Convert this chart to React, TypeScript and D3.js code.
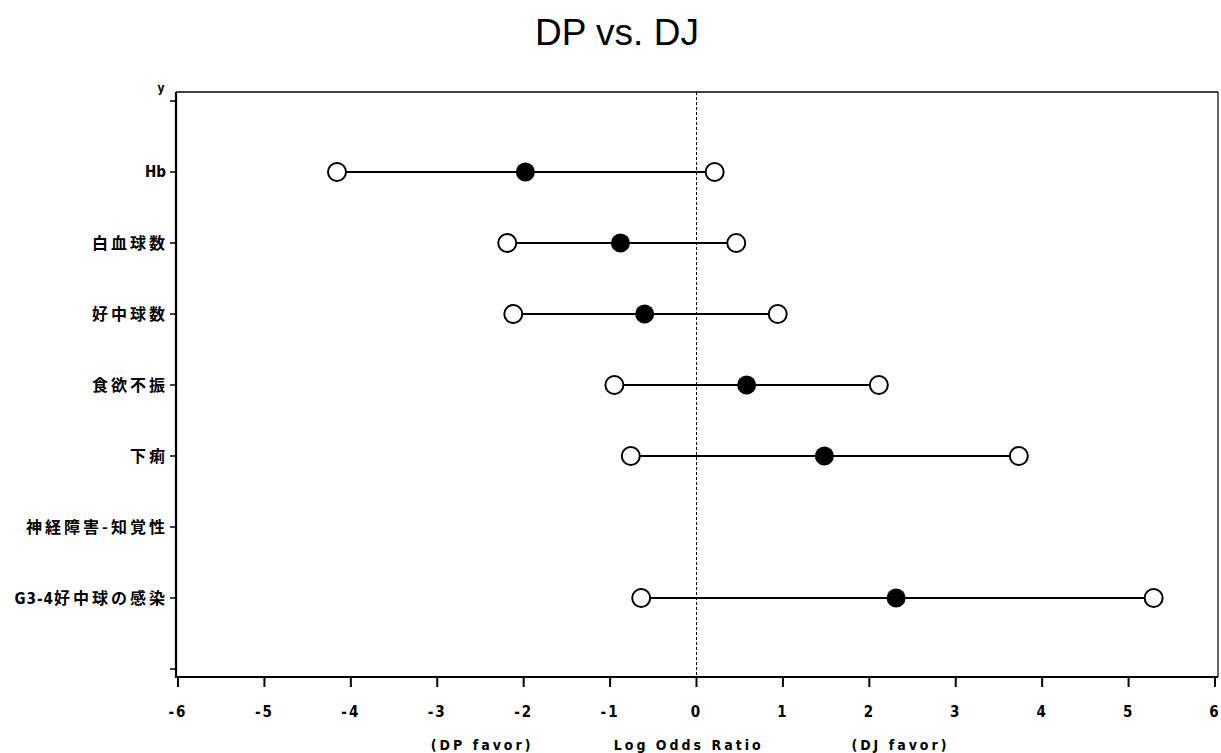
import React from "react";
import * as d3 from "d3";

const categories = ["", "Hb", "白血球数", "好中球数", "食欲不振", "下痢", "神経障害-知覚性", "G3-4好中球の感染", " "];
const lowerCI = [null, -4.16, -2.19, -2.12, -0.95, -0.76, null, -0.64, null];
const estimate = [null, -1.98, -0.88, -0.6, 0.58, 1.48, null, 2.31, null];
const upperCI = [null, 0.21, 0.46, 0.94, 2.11, 3.73, null, 5.29, null];
const xTicks = [-6, -5, -4, -3, -2, -1, 0, 1, 2, 3, 4, 5, 6];
const title = "DP vs. DJ";
const bottomLabels = [
  { x: -2.48, text: "(DP favor)" },
  { x: -0.09, text: "Log Odds Ratio" },
  { x: 2.36, text: "(DJ favor)" },
];

const W = 1221;
const H = 753;
const left = 176;
const right = 1218;
const top = 92;
const bottom = 677;

const labelFont = "'DejaVu Sans Condensed', 'Liberation Sans Narrow', 'Noto Sans CJK JP', sans-serif";
const cjkFont = "'Noto Sans CJK JP', 'DejaVu Sans', sans-serif";

function splitLabel(c: string): [string, string] {
  const m = c.match(/^([A-Za-z0-9\-]+)(.*)$/);
  if (m && m[2] !== "") return [m[1], m[2]];
  return ["", c];
}

export default function App() {
  const x = d3.scaleLinear().domain([-6, 6]).range([178, 1215]);
  const y = d3.scalePoint<string>().domain(categories).range([101, 669]);

  return (
    <svg width={W} height={H} style={{ position: "absolute", left: 0, top: 0, background: "#fff" }}>
      <rect x={0} y={0} width={W} height={H} fill="#fff" />
      <text x={617} y={45} textAnchor="middle" fontFamily="'Liberation Sans', Arial, sans-serif" fontSize={37} fill="#000" style={{ whiteSpace: "pre" }}>
        {title}
      </text>
      {/* frame */}
      <line x1={left} x2={right} y1={top} y2={top} stroke="#000" strokeWidth={1.5} />
      <line x1={right} x2={right} y1={top} y2={bottom} stroke="#000" strokeWidth={1.2} />
      <line x1={left} x2={left} y1={top} y2={bottom + 1} stroke="#000" strokeWidth={2.2} />
      <line x1={left} x2={right} y1={bottom} y2={bottom} stroke="#000" strokeWidth={2.2} />
      <text x={161} y={92} textAnchor="middle" fontFamily={labelFont} fontWeight="bold" fontSize={12}>y</text>
      {/* y ticks and labels */}
      {categories.map((c, i) => {
        const cy = y(c)!;
        if (c.trim() === "") {
          return <line key={i} x1={left - 6} x2={left} y1={cy} y2={cy} stroke="#000" strokeWidth={1.5} />;
        }
        const [ascii, rest] = splitLabel(c);
        return (
          <g key={i}>
            <line x1={left - 6} x2={left} y1={cy} y2={cy} stroke="#000" strokeWidth={1.5} />
            {c === "Hb" ? (
              <text x={left - 10} y={cy} dy="0.36em" textAnchor="end" fontFamily={labelFont} fontWeight="bold" fontSize={15} fill="#000">
                {c}
              </text>
            ) : (
              <text x={left - 8} y={cy} dy="0.36em" textAnchor="end" fontFamily={cjkFont} fontWeight="bold" fontSize={16} letterSpacing={3} fill="#000">
                {ascii !== "" && (
                  <tspan fontFamily={labelFont} fontSize={15} letterSpacing={1}>
                    {ascii}
                  </tspan>
                )}
                <tspan>{rest}</tspan>
              </text>
            )}
          </g>
        );
      })}
      {/* x ticks */}
      {xTicks.map((t) => (
        <g key={t}>
          <line x1={x(t)} x2={x(t)} y1={bottom} y2={bottom + 10} stroke="#000" strokeWidth={2} />
          <text x={x(t)} y={717} textAnchor="middle" fontFamily={labelFont} fontWeight="bold" fontSize={15} letterSpacing={2} fill="#000">
            {t < 0 ? "-" + Math.abs(t) : String(t)}
          </text>
        </g>
      ))}
      {bottomLabels.map((b) => (
        <text key={b.text} x={x(b.x)} y={750} textAnchor="middle" fontFamily={labelFont} fontWeight="bold" fontSize={14} letterSpacing={3} fill="#000">
          {b.text}
        </text>
      ))}
      {/* reference line */}
      <line x1={x(0)} x2={x(0)} y1={top} y2={bottom} stroke="#000" strokeWidth={1} strokeDasharray="3,2" />
      {/* intervals */}
      {categories.map((c, i) => {
        const lo = lowerCI[i];
        const est = estimate[i];
        const hi = upperCI[i];
        if (lo == null || est == null || hi == null) return null;
        const cy = y(c)!;
        return (
          <g key={"ci" + i}>
            <line x1={x(lo)} x2={x(hi)} y1={cy} y2={cy} stroke="#000" strokeWidth={2} />
            <circle cx={x(lo)} cy={cy} r={9} fill="#fff" stroke="#000" strokeWidth={2} />
            <circle cx={x(hi)} cy={cy} r={9} fill="#fff" stroke="#000" strokeWidth={2} />
            <circle cx={x(est)} cy={cy} r={9.5} fill="#000" />
          </g>
        );
      })}
    </svg>
  );
}
